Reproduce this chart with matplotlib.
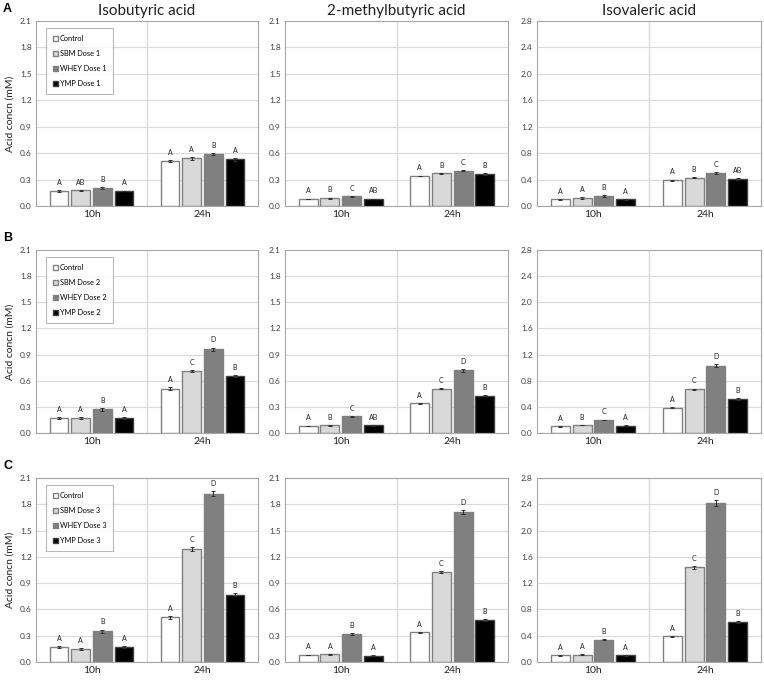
import numpy as np
from matplotlib import pyplot as plt

# data
acids = ["Isobutyric acid", "2-methylbutyric acid", "Isovaleric acid"]
times = ["10h", "24h"]
treatments = ["Control", "SBM", "WHEY", "YMP"]
doses = ["1", "2", "3"]
ymax = [2.1, 2.1, 2.8]
ystep = [0.3, 0.3, 0.4]

# values[dose][acid] = [[10h x4], [24h x4]]
dose1 = [
    [[0.17, 0.18, 0.20, 0.17], [0.51, 0.54, 0.59, 0.53]],
    [[0.08, 0.09, 0.11, 0.08], [0.34, 0.37, 0.40, 0.36]],
    [[0.10, 0.12, 0.15, 0.10], [0.39, 0.43, 0.50, 0.41]],
]
dose2 = [
    [[0.17, 0.17, 0.27, 0.17], [0.51, 0.71, 0.96, 0.65]],
    [[0.08, 0.09, 0.19, 0.09], [0.34, 0.51, 0.72, 0.43]],
    [[0.10, 0.12, 0.20, 0.11], [0.39, 0.67, 1.03, 0.52]],
]
dose3 = [
    [[0.17, 0.15, 0.35, 0.17], [0.51, 1.29, 1.92, 0.77]],
    [[0.08, 0.09, 0.32, 0.07], [0.34, 1.03, 1.71, 0.48]],
    [[0.10, 0.11, 0.34, 0.10], [0.39, 1.44, 2.42, 0.61]],
]
values = [dose1, dose2, dose3]

err1 = [
    [[0.01, 0.005, 0.01, 0.005], [0.01, 0.015, 0.01, 0.015]],
    [[0.005, 0.005, 0.005, 0.005], [0.005, 0.005, 0.005, 0.01]],
    [[0.005, 0.01, 0.01, 0.01], [0.01, 0.01, 0.01, 0.01]],
]
err2 = [
    [[0.01, 0.01, 0.015, 0.01], [0.015, 0.01, 0.02, 0.01]],
    [[0.005, 0.005, 0.005, 0.005], [0.005, 0.01, 0.015, 0.005]],
    [[0.005, 0.005, 0.005, 0.01], [0.01, 0.01, 0.02, 0.01]],
]
err3 = [
    [[0.01, 0.01, 0.02, 0.01], [0.015, 0.02, 0.03, 0.015]],
    [[0.005, 0.005, 0.01, 0.005], [0.005, 0.01, 0.02, 0.01]],
    [[0.005, 0.005, 0.01, 0.005], [0.01, 0.02, 0.05, 0.015]],
]
errors = [err1, err2, err3]

let1 = [
    [["A", "AB", "B", "A"], ["A", "A", "B", "A"]],
    [["A", "B", "C", "AB"], ["A", "B", "C", "B"]],
    [["A", "A", "B", "A"], ["A", "B", "C", "AB"]],
]
let2 = [
    [["A", "A", "B", "A"], ["A", "C", "D", "B"]],
    [["A", "B", "C", "AB"], ["A", "C", "D", "B"]],
    [["A", "B", "C", "A"], ["A", "C", "D", "B"]],
]
let3 = [
    [["A", "A", "B", "A"], ["A", "C", "D", "B"]],
    [["A", "A", "B", "A"], ["A", "C", "D", "B"]],
    [["A", "A", "B", "A"], ["A", "C", "D", "B"]],
]
letters = [let1, let2, let3]

panel_tags = ["A", "B", "C"]
face_colors = ["#ffffff", "#d9d9d9", "#808080", "#000000"]
edge_colors = ["#808080", "#808080", "#808080", "#404040"]

plt.rcParams['font.family'] = ['Lato', 'DejaVu Sans']

W, H = 764, 682
fig = plt.figure(figsize=(W / 100, H / 100), dpi=100)

col_left = [36, 285, 537]
col_right = [258, 508, 761]
row_top = [21, 250, 478]
row_bottom = [206, 433, 662]

bar_w = 0.17
step = 0.195
offsets = (np.arange(4) - 1.5) * step

for r in range(3):
    for c in range(3):
        x0, x1 = col_left[c], col_right[c]
        y0, y1 = row_top[r], row_bottom[r]
        ax = fig.add_axes([x0 / W, 1 - y1 / H, (x1 - x0) / W, (y1 - y0) / H])
        ax.set_xlim(-0.5, 1.5)
        ax.set_ylim(0, ymax[c])
        yt = np.arange(0, ymax[c] + 1e-6, ystep[c])
        ax.set_yticks(yt)
        ax.set_yticklabels(["%.1f" % v for v in yt], fontsize=6, color="#404040")
        ax.set_xticks([0, 1])
        ax.set_xticklabels(times, fontsize=7.5, color="#202020")
        ax.tick_params(length=0, pad=3)
        ax.grid(axis="y", color="#d9d9d9", linewidth=0.8)
        ax.axvline(0.5, color="#d9d9d9", linewidth=1.0, zorder=0.5)
        ax.set_axisbelow(True)
        for s in ax.spines.values():
            s.set_color("#a6a6a6")
            s.set_linewidth(0.8)

        handles = []
        for t in range(4):
            vals = [values[r][c][g][t] for g in range(2)]
            errs = [errors[r][c][g][t] for g in range(2)]
            xs = np.arange(2) + offsets[t]
            b = ax.bar(xs, vals, bar_w, yerr=errs, color=face_colors[t],
                       edgecolor=edge_colors[t], linewidth=1.0,
                       error_kw=dict(ecolor="#303030", elinewidth=0.7, capsize=1.2, capthick=0.7),
                       label=treatments[t] if t == 0 else "%s Dose %s" % (treatments[t], doses[r]))
            handles.append(b)
            for g in range(2):
                ax.annotate(letters[r][c][g][t], (xs[g], vals[g] + errs[g]),
                            xytext=(0, 3), textcoords="offset points",
                            ha="center", va="bottom", fontsize=5, color="#202020")

        if c == 0:
            ax.set_ylabel("Acid concn (mM)", fontsize=7.5, color="#202020", labelpad=4)
            leg = ax.legend(handles=handles, loc="upper left", bbox_to_anchor=(0.045, 0.96),
                            fontsize=5.3, frameon=True, fancybox=False, edgecolor="#a6a6a6",
                            handlelength=0.7, handleheight=0.7, handletextpad=0.3,
                            labelspacing=1.1, borderpad=0.9, borderaxespad=0)
            leg.get_frame().set_linewidth(0.8)
            fig.text(3 / W, 1 - (row_top[r] - 12) / H, panel_tags[r], fontsize=9,
                     fontweight="bold", family="Liberation Sans", va="center", ha="left")
        if r == 0:
            ax.set_title(acids[c], fontsize=11, pad=4, color="#202020")

fig.savefig("out.png", dpi=100)
